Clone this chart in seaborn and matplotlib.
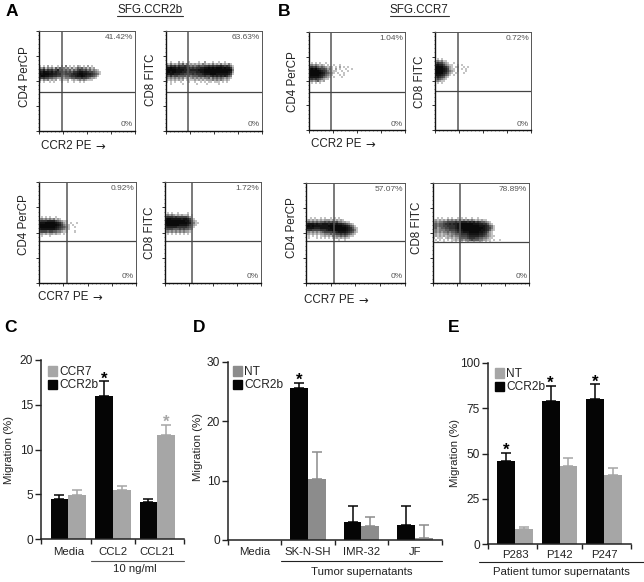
import matplotlib
matplotlib.use("Agg")
import matplotlib.pyplot as plt
from matplotlib.colors import ListedColormap
from matplotlib.patches import Patch
import numpy as np
import pandas as pd
import seaborn as sns

W, H = 644, 582

# ---------- bar data ----------
groups_c = ["Media", "CCL2", "CCL21"]
ccr2b_c = [4.46, 16.0, 4.1]
ccr2b_c_top = [4.9, 17.6, 4.5]
ccr7_c = [4.87, 5.43, 11.6]
ccr7_c_top = [5.46, 5.95, 12.7]

groups_d = ["Media", "SK-N-SH", "IMR-32", "JF"]
ccr2b_d = [0, 25.6, 3.1, 2.6]
ccr2b_d_top = [0, 26.4, 5.8, 5.7]
nt_d = [0, 10.2, 2.3, 0.3]
nt_d_top = [0, 14.9, 3.9, 2.5]

groups_e = ["P283", "P142", "P247"]
ccr2b_e = [46, 78.7, 80]
ccr2b_e_top = [50.5, 87, 88]
nt_e = [8.4, 43.3, 38.2]
nt_e_top = [9.4, 47.7, 42]

# ---------- flow panel labels ----------
pct_a1, pct_a2, pct_a3, pct_a4 = "41.42%", "63.63%", "0.92%", "1.72%"
pct_b1, pct_b2, pct_b3, pct_b4 = "1.04%", "0.72%", "57.07%", "78.89%"

# ---------- dot density (0 empty .. 9 solid) ----------
map_a1 = ["10102010010203010102101020100000",
          "32413231424232313124342313120000",
          "65746564574534342435654534232100",
          "87988786765645454667887765543210",
          "98999887766545556778998877654310",
          "89988776655434456678898766543100",
          "65655443322323334455565543221000",
          "31323121201211201212323211100000",
          "10100101000100100100101000000000"]
map_a2 = ["00100020100100001002000100100100000",
          "21312132413121212132121312131213100",
          "54656465565434345445565656676565310",
          "88988787776656566778898989998988620",
          "99999888877677778889999999999999830",
          "99899888776666677889999999999998720",
          "87887776655556566678889998888887510",
          "54645544443434445556556767676764300",
          "32323232312123232323342434343232100",
          "21212121201111212121222323232121000",
          "10101001000100100101011011101010000",
          "00100000100000010000100000100000000"]
map_b1 = ["01010100100000000000000",
          "23232121010010010000000",
          "56564343212101020101000",
          "89897655423102010010010",
          "99999876532111001001000",
          "99999987543210100100000",
          "99999876432100010100000",
          "88888764321010001000000",
          "56565432110000000000000",
          "23234212000000000000000",
          "01010100000000000000000"]
map_b2 = ["010100000000000000",
          "232311000000000000",
          "465532100100000000",
          "787753211001010000",
          "999976421012001010",
          "999987521101010100",
          "999987532101000100",
          "999976421010001000",
          "888764310100000000",
          "576542100000000000",
          "354321000000000000",
          "232110000000000000",
          "010100000000000000"]
map_a3 = ["01010100100000000000",
          "23232323121000000000",
          "56667777543211000000",
          "88899999876421010010",
          "99999999987532101000",
          "99999999876543100100",
          "78888888765432100000",
          "45554554433211000100",
          "12121221211010000000",
          "01000100000000000000"]
map_a4 = ["0101001000010000000",
          "2323212121120100000",
          "5666565555542100000",
          "8998888878875210000",
          "9999999999886421000",
          "9999999999987531100",
          "8999999888875421000",
          "6777776666654310000",
          "4555444545443200000",
          "2323232323221000000",
          "0101010101010000000"]
map_b3 = ["0010100101001010100000000000000",
          "1212121212221212121000000000000",
          "3434343445454545332211000000000",
          "7888787788878878776543210000000",
          "9989888888899999998876431000000",
          "8888777888889999999987642100000",
          "5665555666788999999987653100000",
          "2323232345555667888876542100000",
          "1212121223334345565654321000000",
          "0101010112121323343432110000000",
          "0100010101010112121211000000000",
          "0000000000000000100100000000000"]
map_b4 = ["001010010100101010010010000000000000",
          "121212132323232323232121211000000000",
          "232334455556567776767565443210000000",
          "343445667677889999998887766421000000",
          "343445566667889999999998887643100000",
          "342344556667889999999999987653100000",
          "232333445556788999999999887642100000",
          "232323343445667888999998876421000000",
          "121212232334456667888887765321000000",
          "121212122323345556777776654321100000",
          "101110121212234445666554433211000000",
          "010101010112123233454443322110100100",
          "001001000101011012112112101010000000"]

density_colors = ["#ffffff", "#c4c4c4", "#a0a0a0", "#7c7c7c", "#5e5e5e",
                  "#464646", "#333333", "#222222", "#141414", "#0a0a0a"]

sns.set_theme(style="white")
plt.rcParams["font.family"] = ["Liberation Sans", "DejaVu Sans"]
plt.rcParams["text.color"] = "#222222"
plt.rcParams["axes.labelcolor"] = "#222222"

fig = plt.figure(figsize=(W / 100, H / 100), dpi=100, facecolor="white")


def make_ax(x0, x1, y0, y1):
    return fig.add_axes([x0 / W, 1 - y1 / H, (x1 - x0) / W, (y1 - y0) / H])


def ftext(x, y, s, **kw):
    kw.setdefault("ha", "center")
    kw.setdefault("va", "center")
    return fig.text(x / W, 1 - y / H, s, **kw)


def fline(x0, x1, y, color="#333333", lw=0.8):
    fig.add_artist(plt.Line2D([x0 / W, x1 / W], [1 - y / H, 1 - y / H], color=color, lw=lw))


CELL = 2.0  # px per density cell


def flow(box, gate, dens, start_row, pct):
    x0, x1, y0, y1 = box
    ax = make_ax(x0, x1, y0, y1)
    ncols = int(round((x1 - x0) / CELL))
    nrows = int(round((y1 - y0) / CELL))
    grid = np.zeros((nrows, ncols))
    for i, row in enumerate(dens):
        for j, ch in enumerate(row):
            grid[start_row + i, j] = int(ch)
    sns.heatmap(grid, ax=ax, cmap=ListedColormap(density_colors), vmin=-0.5, vmax=9.5, cbar=False,
                xticklabels=False, yticklabels=False, rasterized=True)
    for s in ax.spines.values():
        s.set_visible(True)
        s.set_color("#555555")
        s.set_linewidth(0.7)
    ax.spines["left"].set_color("#111111")
    ax.spines["left"].set_linewidth(1.0)
    ax.spines["bottom"].set_color("#111111")
    ax.spines["bottom"].set_linewidth(1.0)
    sx = ncols / (x1 - x0)
    sy = nrows / (y1 - y0)
    ax.axvline((gate[0] - x0) * sx, color="#555555", lw=1.1)
    ax.axhline((gate[1] - y0) * sy, color="#444444", lw=0.9)
    ax.set_xticks(np.linspace(0, ncols, 5))
    ax.set_yticks(np.linspace(0, nrows, 5))
    ax.set_xticks(np.linspace(0, ncols, 25), minor=True)
    ax.set_yticks(np.linspace(0, nrows, 25), minor=True)
    ax.set_xticklabels([])
    ax.set_yticklabels([])
    ax.tick_params(which="major", length=2, width=0.7, color="#333333", bottom=True, left=True)
    ax.tick_params(which="minor", length=1, width=0.5, color="#555555", bottom=True, left=True)
    ftext(x1 - 2, y0 + 6.5, pct, ha="right", fontsize=6, color="#555555")
    ftext(x1 - 2, y1 - 6, "0%", ha="right", fontsize=6, color="#555555")


flow((39.3, 135, 31, 131), (62, 92.3), map_a1, 17, pct_a1)
flow((165.7, 262, 31, 131), (188, 92), map_a2, 15, pct_a2)
flow((308.7, 405, 32, 130), (331, 91.7), map_b1, 15, pct_b1)
flow((435, 531, 32, 130), (457.7, 91.3), map_b2, 13, pct_b2)
flow((39.3, 136, 182.3, 282.7), (66.7, 240.7), map_a3, 17, pct_a3)
flow((165, 261, 182.3, 282.7), (192, 241), map_a4, 15, pct_a4)
flow((306, 404.7, 183, 283), (334, 241.3), map_b3, 17, pct_b3)
flow((433.3, 529.3, 183, 283), (460.3, 241.7), map_b4, 17, pct_b4)

# flow axis labels
for x, y, s in [(25, 77, "CD4 PerCP"), (151, 80, "CD8 FITC"), (293, 82, "CD4 PerCP"), (420, 82, "CD8 FITC"),
                (24, 225, "CD4 PerCP"), (150, 233, "CD8 FITC"), (292, 228, "CD4 PerCP"), (417, 228, "CD8 FITC")]:
    ftext(x, y, s, rotation=90, fontsize=8.4)
for x, y, s in [(41, 146, "CCR2 PE"), (311, 144, "CCR2 PE"),
                (38, 297, "CCR7 PE"), (304, 300, "CCR7 PE")]:
    ftext(x, y, s, ha="left", fontsize=8.4)
    ftext(x + 54, y, "\u2192", ha="left", fontsize=8.4, family="DejaVu Sans")

# titles and letters
ftext(150, 10, "SFG.CCR2b", fontsize=8.4)
fline(117, 183, 16)
ftext(419, 10, "SFG.CCR7", fontsize=8.4)
fline(390, 449, 16)
for x, y, s in [(6, 11, "A"), (278, 11, "B"), (4, 328, "C"), (193, 328, "D"), (448, 328, "E")]:
    ftext(x, y, s, ha="left", fontsize=12.5, fontweight="bold", color="black")

BLACK = "#050505"


def bars(box, groups, first, first_top, second, second_top, second_label, second_color,
         width, xlim, ylim, yticks, seps, legend_xy, stars, tick_y_pad, ylabel_x, ylabel_y):
    x0, x1, y0, y1 = box
    ax = make_ax(x0, x1, y0, y1)
    df = pd.DataFrame({
        "group": list(groups) * 2,
        "value": list(first) + list(second),
        "kind": ["CCR2b"] * len(groups) + [second_label] * len(groups),
    })
    sns.barplot(data=df, x="group", y="value", hue="kind", ax=ax, order=groups,
                hue_order=["CCR2b", second_label],
                palette={"CCR2b": BLACK, second_label: second_color},
                width=width, gap=0, errorbar=None, saturation=1, linewidth=0, legend=False)
    tops = [first_top, second_top]
    vals = [first, second]
    cols = [BLACK, second_color]
    conts = list(ax.containers)
    for k, cont in enumerate(conts):
        xs = [p.get_x() + p.get_width() / 2 for p in cont.patches]
        for bx, v, t in zip(xs, vals[k], tops[k]):
            if t > 0:
                ax.errorbar([bx], [v], yerr=[[0], [t - v]], color=cols[k], lw=1.1,
                            capsize=3.4, capthick=1.1, clip_on=False)
    for g, k, color in stars:
        p = conts[k].patches[g]
        ax.annotate("*", (p.get_x() + p.get_width() / 2, tops[k][g]), xytext=(0, -3.5),
                    textcoords="offset points", ha="center", va="bottom", fontsize=12,
                    fontweight="bold", color=color, annotation_clip=False)
    ax.set_xlim(*xlim)
    ax.set_ylim(*ylim)
    ax.set_yticks(yticks)
    ax.set_yticklabels([str(v) for v in yticks], fontsize=8.6)
    ax.set_xticks(seps)
    ax.set_xticklabels([])
    ax.set_xticks(range(len(groups)), minor=True)
    ax.set_xticklabels(groups, minor=True, fontsize=8.2)
    ax.tick_params(axis="x", which="minor", length=0, pad=tick_y_pad, colors="#222222")
    ax.tick_params(axis="x", which="major", length=3.6, width=1.0, color="#222222", bottom=True)
    ax.tick_params(axis="y", length=4.2, width=1.0, color="#222222", pad=1.5, left=True, labelcolor="#222222")
    ax.set_xlabel("")
    ax.set_ylabel("")
    ax.patch.set_alpha(0)
    sns.despine(ax=ax)
    for s in ("left", "bottom"):
        ax.spines[s].set_linewidth(1.1)
        ax.spines[s].set_color("#222222")
    ftext(ylabel_x, ylabel_y, "Migration (%)", rotation=90, fontsize=8.2)
    ax.legend(handles=[Patch(color=second_color, label=second_label), Patch(color=BLACK, label="CCR2b")],
              loc="upper left", bbox_to_anchor=(legend_xy[0] / W, 1 - legend_xy[1] / H),
              bbox_transform=fig.transFigure, frameon=False, fontsize=8.6, handlelength=0.72,
              handleheight=0.85, handletextpad=0.2, labelspacing=0.12, borderpad=0, borderaxespad=0)
    return ax


bars((41, 184, 360, 539), groups_c, ccr2b_c, ccr2b_c_top, ccr7_c, ccr7_c_top, "CCR7", "#a6a6a6",
     0.8, (-0.615, 2.6), (0, 20), [0, 5, 10, 15, 20], [-0.615, 0.5, 1.5, 2.6], (48, 366),
     [(1, 0, "black"), (2, 1, "#a6a6a6")], 5.5, 9, 450)
ftext(135, 569, "10 ng/ml", fontsize=8.2)
fline(91, 184, 560.7, color="#555555")

bars((228, 441.7, 362, 540), groups_d, ccr2b_d, ccr2b_d_top, nt_d, nt_d_top, "NT", "#8c8c8c",
     0.667, (-0.495, 3.5), (0, 30), [0, 10, 20, 30], [-0.495, 0.5, 1.5, 2.5, 3.5], (233, 366),
     [(1, 0, "black")], 5, 198, 447)
ftext(362, 571.7, "Tumor supernatants", fontsize=8.2)
fline(281, 442, 560.7, color="#222222")

bars((488, 630.7, 362.7, 544.3), groups_e, ccr2b_e, ccr2b_e_top, nt_e, nt_e_top, "NT", "#a6a6a6",
     0.8, (-0.607, 2.6), (0, 100), [0, 25, 50, 75, 100], [-0.607, 0.5, 1.5, 2.6], (495, 368),
     [(0, 0, "black"), (1, 0, "black"), (2, 0, "black")], 4, 455, 453)
ftext(561.5, 571.7, "Patient tumor supernatants", fontsize=8.2)
fline(479, 644, 561.7, color="#222222")

fig.savefig("out.png", dpi=100, facecolor="white")
